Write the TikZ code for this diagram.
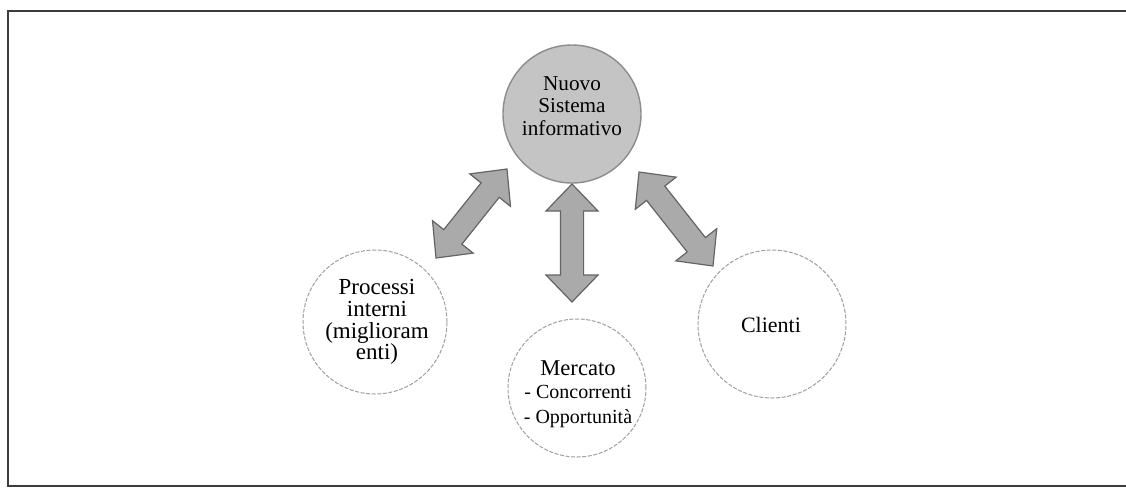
\documentclass[tikz,border=0pt]{standalone}
\usepackage{fontspec}
\setmainfont{Liberation Serif}
\usetikzlibrary{calc}
\definecolor{arrfill}{RGB}{170,170,170}
\definecolor{arredge}{RGB}{100,100,100}
\definecolor{topfill}{RGB}{196,196,196}
\definecolor{topedge}{RGB}{140,140,140}
\definecolor{ringedge}{RGB}{160,160,160}
\definecolor{framecol}{RGB}{60,60,60}
\newcommand\ahl{13.5pt}
\newcommand\ahw{13pt}
\newcommand\asw{5.8pt}
\newcommand\fatarr[2]{%
 \filldraw[fatarrow] (#1)
 -- ($(#1)!\ahl!(#2)!\ahw!90:(#2)$)
 -- ($(#1)!\ahl!(#2)!\asw!90:(#2)$)
 -- ($(#2)!\ahl!(#1)!\asw!-90:(#1)$)
 -- ($(#2)!\ahl!(#1)!\ahw!-90:(#1)$)
 -- (#2)
 -- ($(#2)!\ahl!(#1)!\ahw!90:(#1)$)
 -- ($(#2)!\ahl!(#1)!\asw!90:(#1)$)
 -- ($(#1)!\ahl!(#2)!\asw!-90:(#2)$)
 -- ($(#1)!\ahl!(#2)!\ahw!-90:(#2)$)
 -- cycle;}
\tikzset{
  topcircle/.style={circle, fill=topfill, draw=topedge, line width=0.7pt, inner sep=0pt},
  ring/.style={circle, fill=white, draw=ringedge, line width=0.5pt, dash pattern=on 2pt off 0.8pt, inner sep=0pt},
  txt/.style={align=center, inner sep=0pt},
  fatarrow/.style={fill=arrfill, draw=arredge, line width=0.6pt, line join=miter},
  frameline/.style={draw=framecol, line width=1pt}
}
\begin{document}
\begin{tikzpicture}[x=0.5pt, y=-0.5pt]
\useasboundingbox (0,0) rectangle (1126,488);
\fill[white] (0,0) rectangle (1126,488);
% frame
\coordinate (f1) at (1126,10.5);
\coordinate (f2) at (7.5,10.5);
\coordinate (f3) at (7.5,486);
\coordinate (f4) at (1126,486);
\draw[frameline] (f1) -- (f2) -- (f3) -- (f4);
% circles
\node[topcircle, minimum size=69pt] (nuovo) at (572,114) {};
\node[ring, minimum size=72pt] (proc) at (375,322) {};
\node[ring, minimum size=69pt] (merc) at (577,388) {};
\node[ring, minimum size=74pt] (cli) at (772,324) {};
% texts
\node[txt, font=\fontsize{10.6}{11.3}\selectfont] (nuovot) at (572,106) {Nuovo\\Sistema\\informativo};
\node[txt, font=\fontsize{11.5}{10.9}\selectfont] (proct) at (377,322) {Processi\\interni\\(miglioram\\enti)};
\node[txt, font=\fontsize{11}{12}\selectfont] (clit) at (771,325) {Clienti};
\node[txt, font=\fontsize{11.3}{12}\selectfont] (merct) at (578,368) {Mercato};
\node[txt, font=\fontsize{10}{12}\selectfont, anchor=north] (mercs) at (578,385) {- Concorrenti\\[0.6pt]- Opportunità};
% arrows
\coordinate (la) at (507,169);
\coordinate (lb) at (436,258);
\coordinate (ma) at (572,184);
\coordinate (mb) at (572,302);
\coordinate (ra) at (639,172);
\coordinate (rb) at (713,266);
\fatarr{la}{lb}
\fatarr{ma}{mb}
\fatarr{ra}{rb}
\end{tikzpicture}
\end{document}
